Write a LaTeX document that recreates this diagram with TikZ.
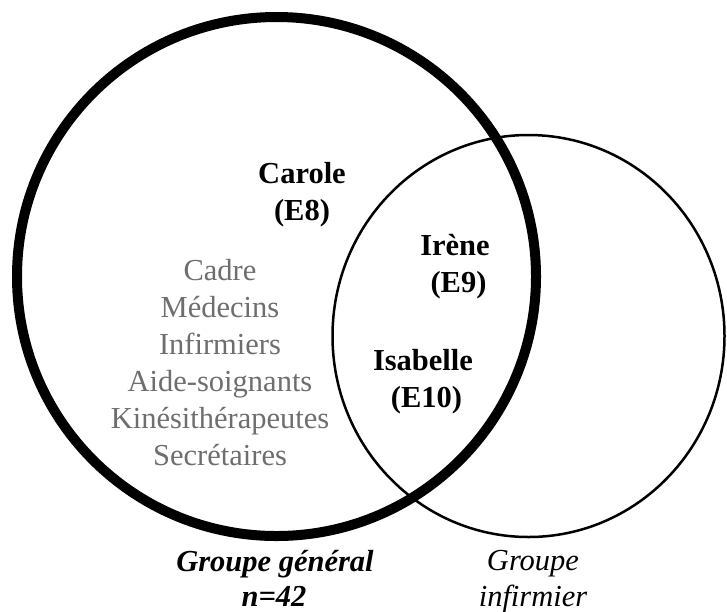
\documentclass[tikz,border=0pt]{standalone}
\usepackage{fontspec}
\setmainfont{Liberation Serif}
\definecolor{txtgray}{HTML}{6E6E6E}
\begin{document}
\begin{tikzpicture}[x=1pt,y=-1pt,
  lbl/.style={inner sep=0pt,anchor=base,font=\fontsize{30.5}{37}\selectfont},
  pname/.style={lbl,font=\fontsize{30.5}{37}\selectfont\bfseries},
  prof/.style={lbl,text=txtgray},
  grpmain/.style={lbl,font=\fontsize{30.5}{37}\selectfont\bfseries\itshape},
  grpinf/.style={lbl,font=\fontsize{30.5}{37}\selectfont\itshape}]
\useasboundingbox[fill=white] (0,0) rectangle (727,611);
% circles
\draw[line width=2.5pt] (528.5,336) ellipse[x radius=196pt, y radius=201pt];
\draw[line width=10pt] (276.5,276.5) circle[radius=259.5pt];
% names
\node[pname] (carole) at (302,183) {Carole};
\node[pname] (e8) at (302,220) {(E8)};
\node[pname] (irene) at (455,255) {Irène};
\node[pname] (e9) at (458.5,292) {(E9)};
\node[pname] (isabelle) at (423,370) {Isabelle};
\node[pname] (e10) at (426.5,407) {(E10)};
% professions
\node[prof] (p1) at (220,280) {Cadre};
\node[prof] (p2) at (220,317) {Médecins};
\node[prof] (p3) at (220,354) {Infirmiers};
\node[prof] (p4) at (220,391) {Aide-soignants};
\node[prof] (p5) at (220,428) {Kinésithérapeutes};
\node[prof] (p6) at (220,465) {Secrétaires};
% group labels
\node[grpmain] (gg) at (275,571) {Groupe général};
\node[grpmain] (n42) at (274,606) {n=42};
\node[grpinf] (gi1) at (533,570) {Groupe};
\node[grpinf] (gi2) at (533,606) {infirmier};
\end{tikzpicture}
\end{document}
